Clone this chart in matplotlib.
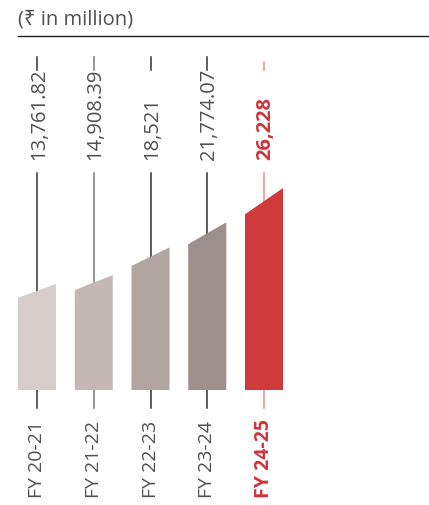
import matplotlib.pyplot as plt
from matplotlib import transforms
from matplotlib.patches import Polygon
from matplotlib.lines import Line2D

plt.rcParams['font.family'] = ['Open Sans', 'Noto Sans', 'DejaVu Sans']

years = ['FY 20-21', 'FY 21-22', 'FY 22-23', 'FY 23-24', 'FY 24-25']
values = [13761.82, 14908.39, 18521, 21774.07, 26228]
value_labels = ['13,761.82', '14,908.39', '18,521', '21,774.07', '26,228']
bar_colors = ['#d6cdca', '#c3b8b4', '#b0a5a1', '#9d8f8b', '#cf3a3a']
line_colors = ['#333333', '#777777', '#333333', '#333333', '#e88a8a']
text_colors = ['#505050'] * 4 + ['#d0343a']
weights = ['normal'] * 4 + ['bold']

W, H = 429, 505
fig = plt.figure(figsize=(W / 100, H / 100), dpi=100)
ax = fig.add_axes([0, 0, 1, 1])
ax.axis('off')

# pixel layout: bar base at y=390px, 26228 -> 202px tall, bar pitch 56.75px
units_per_px = 26228 / 202
pitch = 56.75
ax.set_xlim(-37 / pitch, (W - 37) / pitch)
ax.set_ylim(-(H - 390) * units_per_px, 390 * units_per_px)

def fy(px):
    return 1 - px / H

trans = transforms.blended_transform_factory(ax.transData, fig.transFigure)
half = 19 / pitch
slant = 0.87  # left edge is lower than right edge

for i, v in enumerate(values):
    # connector lines
    top0 = 62 if i == 4 else 57
    ax.plot([i, i], [fy(top0), fy(70)], color=line_colors[i], lw=1.1, transform=trans, zorder=1)
    ax.plot([i, i], [fy(173), fy(408)], color=line_colors[i], lw=1.1, transform=trans, zorder=1)
    # slanted bar
    poly = Polygon([(i - half, 0), (i + half, 0), (i + half, v), (i - half, v * slant)],
                   closed=True, facecolor=bar_colors[i], edgecolor='none', zorder=2)
    ax.add_patch(poly)
    ax.text(i + 0.03, fy(160), value_labels[i], rotation=90, ha='center', va='bottom',
            fontsize=14.5, color=text_colors[i], fontweight=weights[i], transform=trans)
    ax.text(i, fy(498), years[i], rotation=90, ha='center', va='bottom',
            fontsize=14, color=text_colors[i], fontweight=weights[i], transform=trans)

fig.text(18 / W, fy(20), '(₹ in million)', ha='left', va='center', fontsize=14.5, color='#505050')
fig.add_artist(Line2D([18 / W, 1], [fy(36), fy(36)], color='#222222', lw=1.0))

fig.savefig('out.png', dpi=100)
